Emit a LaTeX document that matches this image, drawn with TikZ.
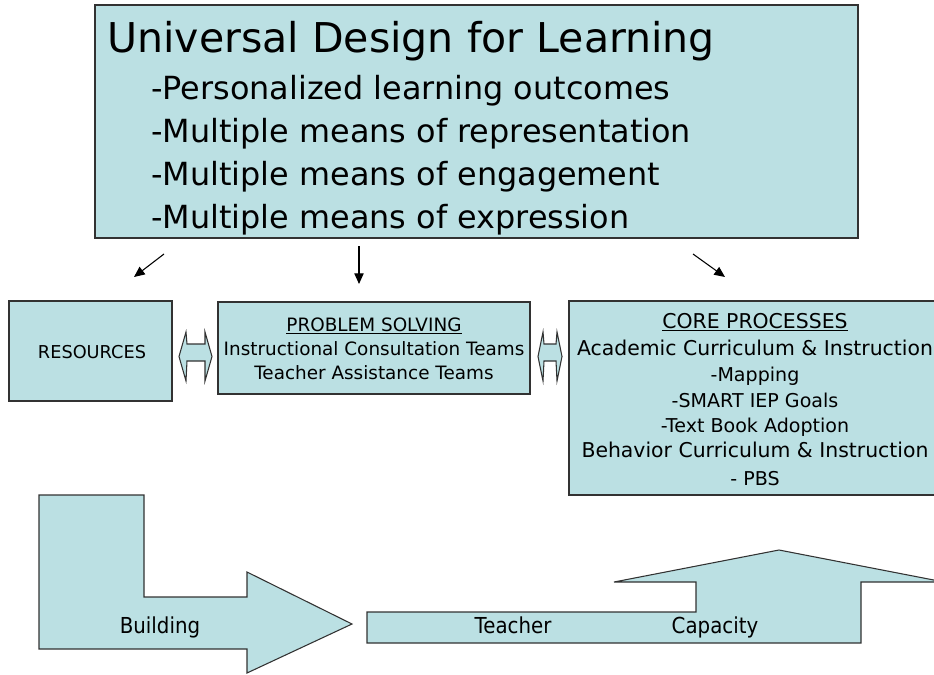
\documentclass[tikz,border=0pt]{standalone}
\usepackage{fontspec}
\setmainfont{DejaVu Sans}
\newfontfamily\narrowfont{DejaVu Sans}[FakeStretch=0.9]
\usetikzlibrary{arrows.meta}
\definecolor{udlfill}{RGB}{187,224,227}
\definecolor{udledge}{RGB}{50,50,50}
\tikzset{
  box/.style={draw=udledge, fill=udlfill, line width=0.8pt},
  txt/.style={inner sep=0pt, anchor=base},
  conn/.style={line width=0.8pt, -{Triangle[length=8pt,width=7pt]}},
}
\newcommand{\fsz}[1]{\fontsize{#1pt}{#1pt}\selectfont}
\begin{document}
\begin{tikzpicture}[x=0.75pt,y=-0.75pt]
\useasboundingbox (0,0) rectangle (934,674);
\begin{scope}
\clip (0,0) rectangle (934,674);
% top box
\draw[box] (95,5) rectangle (858,238);
\node[txt, anchor=base west] (title) at (107,53) {\fsz{30.8}Universal Design for Learning};
\node[txt, anchor=base west] (l1) at (151,99) {\fsz{23.9}-Personalized learning outcomes};
\node[txt, anchor=base west] (l2) at (151,142) {\fsz{23.9}-Multiple means of representation};
\node[txt, anchor=base west] (l3) at (151,185) {\fsz{23.9}-Multiple means of engagement};
\node[txt, anchor=base west] (l4) at (151,228) {\fsz{23.9}-Multiple means of expression};
% arrows
\coordinate (a1s) at (164,254); \coordinate (a1e) at (134,277);
\coordinate (a2s) at (359,246); \coordinate (a2e) at (359,284);
\coordinate (a3s) at (693,254); \coordinate (a3e) at (725,277);
\draw[conn] (a1s) -- (a1e);
\draw[conn] (a2s) -- (a2e);
\draw[conn] (a3s) -- (a3e);
% resources
\draw[box] (9,301) rectangle (172,401);
\node[txt] (res) at (92,358) {\fsz{13.3}RESOURCES};
% problem solving
\draw[box] (218,302) rectangle (530,394);
\node[txt] (ps1) at (374,331) {\fsz{13.8}\underline{PROBLEM SOLVING}};
\node[txt] (ps2) at (374,355) {\fsz{13.8}Instructional Consultation Teams};
\node[txt] (ps3) at (374,379) {\fsz{13.8}Teacher Assistance Teams};
% core processes
\draw[box] (569,301) rectangle (942,495);
\node[txt] (cp1) at (755,328) {\fsz{15.3}\underline{CORE PROCESSES}};
\node[txt] (cp2) at (755,355) {\fsz{15.3}Academic Curriculum \& Instruction};
\node[txt] (cp3) at (755,381) {\fsz{14.3}-Mapping};
\node[txt] (cp4) at (755,407) {\fsz{14.3}-SMART IEP Goals};
\node[txt] (cp5) at (755,432) {\fsz{14.3}-Text Book Adoption};
\node[txt] (cp6) at (755,457) {\fsz{15.3}Behavior Curriculum \& Instruction};
\node[txt] (cp7) at (755,485) {\fsz{14.3}- PBS};
% double arrows
\draw[box] (179,356.5) -- (186,332) -- (187,344) -- (205,344) -- (205,332) -- (212,356.5)
  -- (205,381) -- (205,361) -- (187,361) -- (186,381) -- cycle;
\draw[box] (538,356.5) -- (543,332) -- (544,344) -- (556,344) -- (557,332) -- (562,356.5)
  -- (557,381) -- (556,361) -- (544,361) -- (543,381) -- cycle;
% building arrow
\draw[box] (39,495) -- (144,495) -- (144,597) -- (247,597) -- (247,572) -- (352,624)
  -- (247,673) -- (247,649) -- (39,649) -- cycle;
\node[txt] (bld) at (160,633) {\narrowfont\fsz{16.5}Building};
% teacher capacity arrow
\draw[box] (367,643) -- (367,612) -- (696,612) -- (696,582) -- (614,582) -- (779,550)
  -- (944,582) -- (861,582) -- (861,643) -- cycle;
\node[txt] (tch) at (513,633) {\narrowfont\fsz{16.5}Teacher};
\node[txt] (cap) at (715,633) {\narrowfont\fsz{16.5}Capacity};
\end{scope}
\end{tikzpicture}
\end{document}
